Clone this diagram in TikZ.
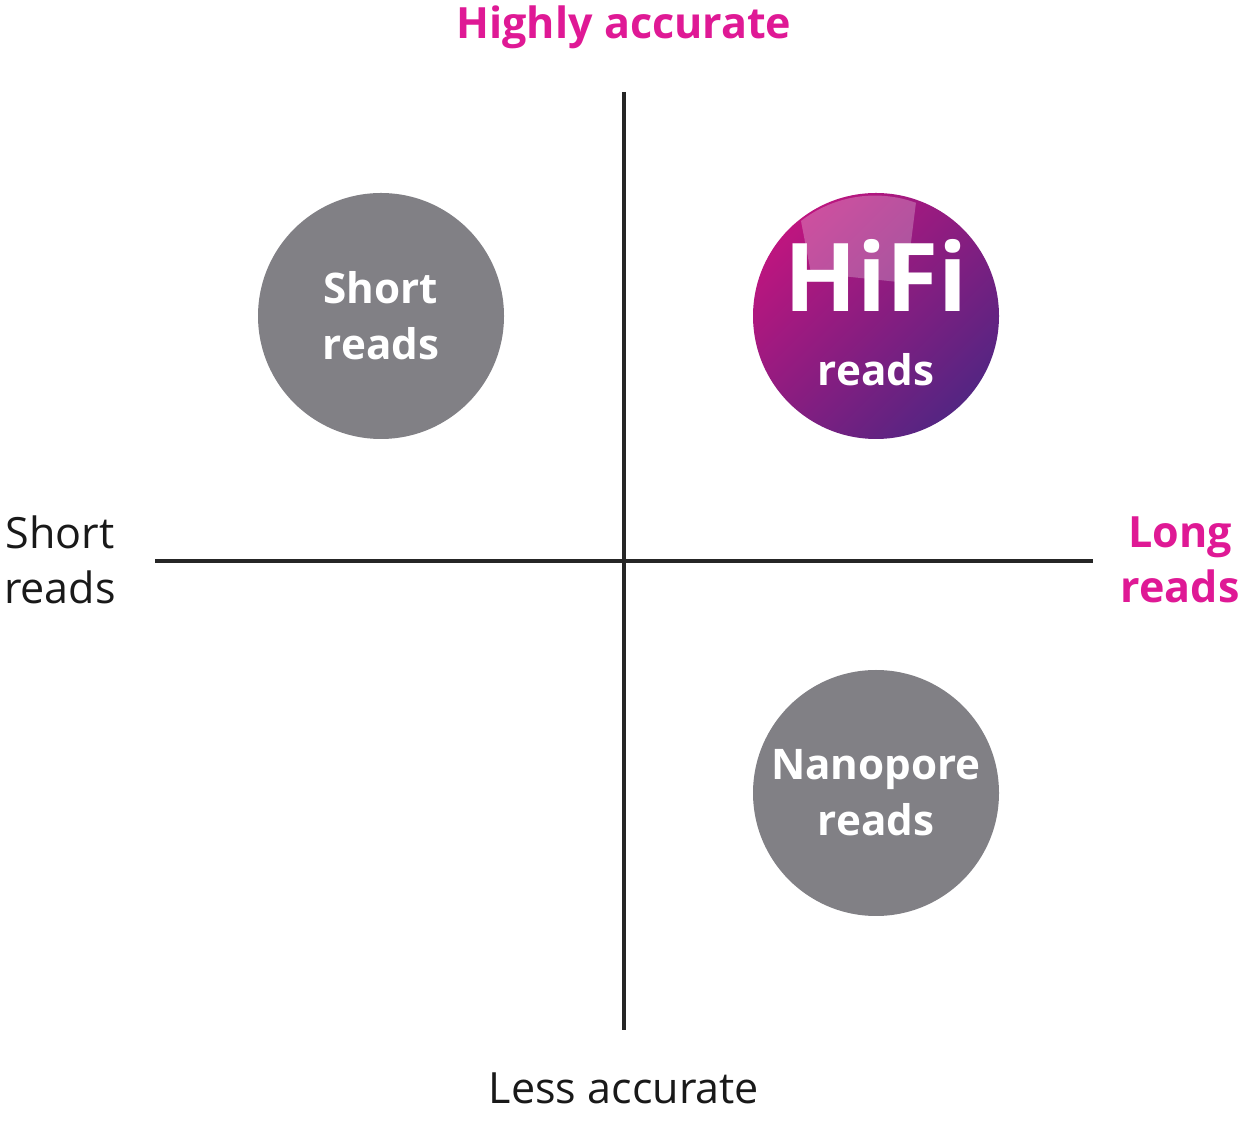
\documentclass[tikz,border=0pt]{standalone}
\usepackage{fontspec}
\setmainfont{Open Sans}
\usetikzlibrary{positioning}
\definecolor{pbmagenta}{RGB}{223,25,149}
\definecolor{readgray}{RGB}{129,128,133}
\definecolor{hifipurple}{RGB}{84,37,130}
\tikzset{
    axis/.style = {line width=2.2pt, black!85},
    readball/.style = {
        circle,
        fill=readgray,
        minimum size=4.92cm,
        align=center,
        text=white,
        font=\fontsize{24}{32}\selectfont\bfseries
    },
    hiball/.style = {readball, fill=none, left color=pbmagenta!85!black, right color=hifipurple, shading angle=45},
    pinklabel/.style = {text=pbmagenta, font=\fontsize{24.5}{31}\selectfont\bfseries, align=center},
    plainlabel/.style = {text=black!90, font=\fontsize{24.5}{31}\selectfont, align=center}
}
\begin{document}
\begin{tikzpicture}
\useasboundingbox (0,0) rectangle (24.8,22.4);

% Axes
\coordinate (top) at (12.48,20.56);
\coordinate (bottom) at (12.48,1.8);
\coordinate (left) at (3.1,11.18);
\coordinate (right) at (21.86,11.18);
\draw[axis] (top) -- (bottom);
\draw[axis] (left) -- (right);

% Axis labels
\node[pinklabel] (hiacc) at (12.48,21.86) {Highly accurate};
\node[plainlabel] (loacc) at (12.48,0.64) {Less accurate};
\node[plainlabel] (shortax) at (1.2,11.2) {Short\\reads};
\node[pinklabel] (longax) at (23.6,11.2) {Long\\reads};

% Reads
\node[readball] (short) at (7.62,16.08) {Short\\reads};
\node[readball] (nano) at (17.52,6.54) {Nanopore\\reads};
\node[hiball] (hifi) at (17.52,16.08) {};
\fill[white, opacity=0.25] (hifi.center) ++(-1.5,1.9) arc[start angle=128, end angle=70, radius=2.4] -- ++(-0.2,-1.6) -- ++(-1.9,0.2) -- cycle;
\node[text=white, font=\fontsize{54}{54}\selectfont\bfseries] (hifitxt) at (17.52,16.9) {HiFi};
\node[text=white, font=\fontsize{24}{28}\selectfont\bfseries] (hifireads) at (17.52,15.0) {reads};

\end{tikzpicture}
\end{document}
